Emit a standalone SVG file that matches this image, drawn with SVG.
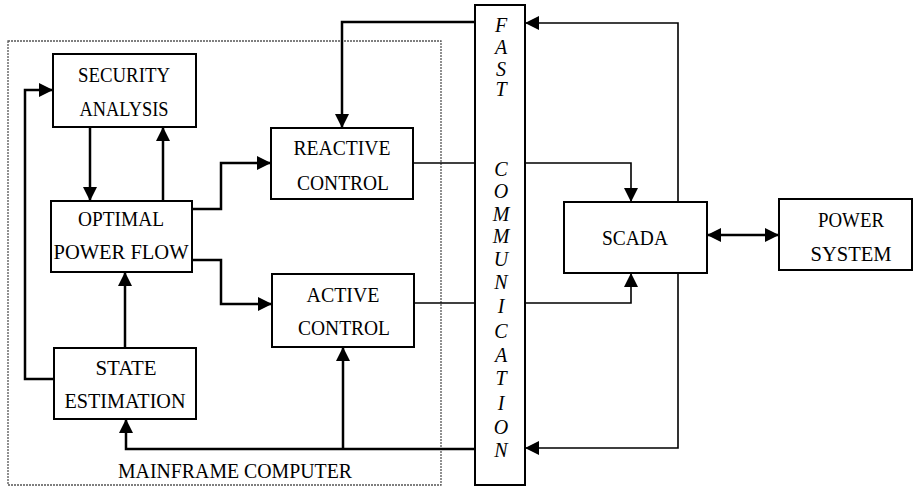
<svg xmlns="http://www.w3.org/2000/svg" width="915" height="486" viewBox="0 0 915 486">
<defs>
<marker id="ah" markerUnits="userSpaceOnUse" markerWidth="14" markerHeight="14" refX="14" refY="7" orient="auto-start-reverse" viewBox="0 0 14 14">
<path d="M0,0 L14,7 L0,14 z" fill="#000"/>
</marker>
</defs>
<style>
.box{fill:#fff;stroke:#000;stroke-width:2}
.t{font-family:"Liberation Serif","Times New Roman",serif;font-size:22px;fill:#000;text-anchor:middle}
.v{font-family:"Liberation Serif","Times New Roman",serif;font-size:20px;font-style:italic;fill:#000;text-anchor:middle}
.thick{fill:none;stroke:#000;stroke-width:2.5}
.thin{fill:none;stroke:#000;stroke-width:1.6}
.arr{marker-end:url(#ah)}
</style>
<rect width="915" height="486" fill="#fff"/>
<g id="mainframe">
<rect x="8" y="41" width="433" height="444" fill="none" stroke="#555" stroke-width="1.3" stroke-dasharray="2 1"/>
<text class="t" x="235" y="478" textLength="234" lengthAdjust="spacingAndGlyphs">MAINFRAME COMPUTER</text>
</g>
<g id="connectors">
<path class="thick arr" d="M475,22 H342 V128"/>
<path class="thin" d="M413,163 H475"/>
<path class="thin arr" d="M525,163 H631 V202"/>
<path class="thin arr" d="M678,202 V23 H525"/>
<path class="thin arr" d="M678,273 V448 H525"/>
<path class="thin" d="M414,303 H475"/>
<path class="thin arr" d="M525,303 H631 V273"/>
<path class="thick arr" d="M475,449 H126 V419"/>
<path class="thick arr" d="M343,449 V347"/>
<path class="thick arr" d="M707,235 H779" marker-start="url(#ah)"/>
<path class="thick arr" d="M90,127 V201"/>
<path class="thick arr" d="M163,201 V127"/>
<path class="thick arr" d="M125,348 V272"/>
<path class="thick arr" d="M54,379 H25 V90 H53"/>
<path class="thick arr" d="M192,209 H221 V163 H271"/>
<path class="thick arr" d="M192,260 H221 V304 H272"/>
</g>
<g id="security">
<rect class="box" x="53" y="54" width="143" height="73"/>
<text class="t" x="124" y="82" textLength="92" lengthAdjust="spacingAndGlyphs">SECURITY</text>
<text class="t" x="124" y="116" textLength="89" lengthAdjust="spacingAndGlyphs">ANALYSIS</text>
</g>
<g id="opf">
<rect class="box" x="51" y="201" width="141" height="71"/>
<text class="t" x="121" y="226" textLength="86" lengthAdjust="spacingAndGlyphs">OPTIMAL</text>
<text class="t" x="121" y="259" textLength="135" lengthAdjust="spacingAndGlyphs">POWER  FLOW</text>
</g>
<g id="state">
<rect class="box" x="54" y="348" width="142" height="71"/>
<text class="t" x="126" y="375" textLength="61" lengthAdjust="spacingAndGlyphs">STATE</text>
<text class="t" x="125" y="408" textLength="121" lengthAdjust="spacingAndGlyphs">ESTIMATION</text>
</g>
<g id="reactive">
<rect class="box" x="271" y="128" width="142" height="71"/>
<text class="t" x="342" y="155" textLength="97" lengthAdjust="spacingAndGlyphs">REACTIVE</text>
<text class="t" x="343" y="190" textLength="92" lengthAdjust="spacingAndGlyphs">CONTROL</text>
</g>
<g id="active">
<rect class="box" x="272" y="274" width="142" height="73"/>
<text class="t" x="343" y="302" textLength="73" lengthAdjust="spacingAndGlyphs">ACTIVE</text>
<text class="t" x="344" y="335" textLength="92" lengthAdjust="spacingAndGlyphs">CONTROL</text>
</g>
<g id="fastcomm">
<rect class="box" x="475" y="5" width="50" height="480"/>
<text class="v" x="501" y="32">F</text>
<text class="v" x="501" y="54">A</text>
<text class="v" x="501" y="76">S</text>
<text class="v" x="501" y="96">T</text>
<text class="v" x="501" y="176">C</text>
<text class="v" x="501" y="198">O</text>
<text class="v" x="501" y="221">M</text>
<text class="v" x="501" y="243">M</text>
<text class="v" x="501" y="266">U</text>
<text class="v" x="501" y="289">N</text>
<text class="v" x="501" y="313">I</text>
<text class="v" x="501" y="338">C</text>
<text class="v" x="501" y="362">A</text>
<text class="v" x="501" y="385">T</text>
<text class="v" x="501" y="410">I</text>
<text class="v" x="501" y="434">O</text>
<text class="v" x="501" y="457">N</text>
</g>
<g id="scada">
<rect class="box" x="564" y="202" width="143" height="71"/>
<text class="t" x="635" y="245" textLength="66" lengthAdjust="spacingAndGlyphs">SCADA</text>
</g>
<g id="powersystem">
<rect class="box" x="779" y="199" width="133" height="71"/>
<text class="t" x="851" y="227" textLength="66" lengthAdjust="spacingAndGlyphs">POWER</text>
<text class="t" x="851" y="261" textLength="81" lengthAdjust="spacingAndGlyphs">SYSTEM</text>
</g>
</svg>
